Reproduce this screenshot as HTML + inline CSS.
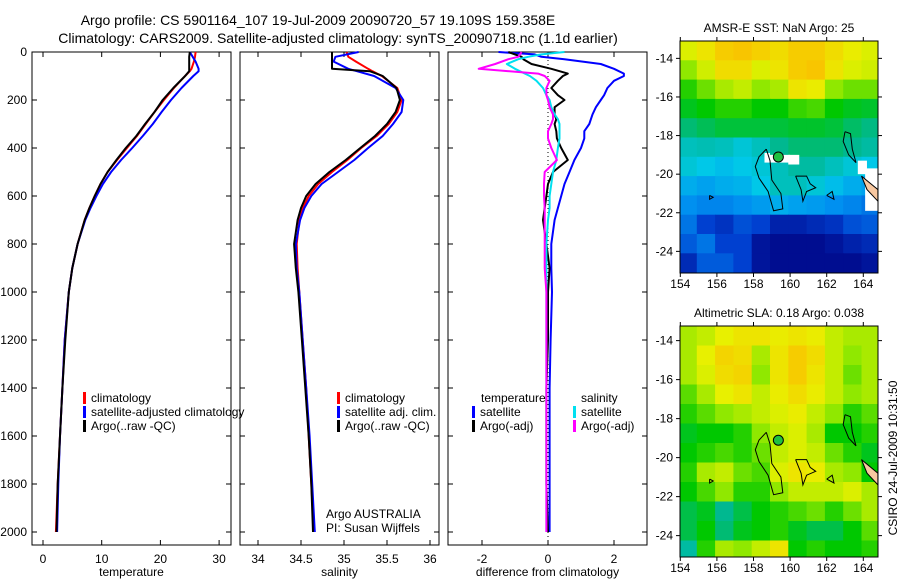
<!DOCTYPE html>
<html><head><meta charset="utf-8"><style>
html,body{margin:0;padding:0;background:#fff;}
svg{display:block;font-family:"Liberation Sans",sans-serif;}
text{fill:#000;}
</style></head><body>
<svg id="fig" width="900" height="580" viewBox="0 0 900 580">
<defs>
<clipPath id="clipm1"><rect x="680" y="41" width="198" height="232"/></clipPath>
<clipPath id="clipm2"><rect x="680" y="326" width="198" height="231"/></clipPath>
</defs>
<text x="318" y="25" font-size="14" text-anchor="middle">Argo profile: CS 5901164_107 19-Jul-2009 20090720_57 19.109S 159.358E</text>
<text x="338" y="43" font-size="14" text-anchor="middle">Climatology: CARS2009. Satellite-adjusted climatology: synTS_20090718.nc (1.1d earlier)</text>
<g id="g"></g>
</svg>
<script>
// ---- data ----
const depths = [0,20,40,70,80,100,150,200,250,300,350,400,450,500,550,600,650,700,800,900,1000,1200,1400,1600,1800,2000];
const tempClim = [26.0,25.9,25.7,25.3,25.0,24.2,22.3,20.6,19.0,17.5,16.0,14.3,12.6,11.0,9.8,8.8,7.9,7.1,5.9,5.0,4.4,3.7,3.3,2.9,2.5,2.2];
const tempSat = [25.0,25.5,26.0,26.5,26.5,25.6,23.6,21.8,20.2,18.7,17.0,15.2,13.3,11.6,10.2,9.1,8.1,7.2,5.9,5.0,4.4,3.7,3.3,2.9,2.6,2.4];
const tempArgo = [25.0,24.9,24.9,24.9,24.9,24.2,22.2,20.4,19.0,17.4,15.9,14.1,12.5,11.0,9.8,8.8,7.9,7.1,5.9,5.0,4.4,3.8,3.3,2.9,2.5,2.3];
const salClim = [35.03,35.05,35.14,35.28,35.33,35.44,35.62,35.67,35.62,35.52,35.38,35.2,35.04,34.86,34.70,34.59,34.52,34.48,34.45,34.46,34.48,34.52,34.56,34.59,34.62,34.65];
const salSat = [35.17,34.9,34.88,35.05,35.15,35.35,35.6,35.69,35.67,35.57,35.45,35.28,35.12,34.93,34.74,34.62,34.54,34.49,34.44,34.45,34.48,34.52,34.56,34.6,34.63,34.66];
const salArgo = [34.86,34.86,34.86,34.86,35.30,35.45,35.61,35.65,35.6,35.5,35.36,35.19,35.02,34.83,34.67,34.56,34.5,34.46,34.42,34.44,34.47,34.51,34.55,34.59,34.62,34.64];
const diffDepths = [0,10,20,30,50,70,90,100,120,150,180,200,230,260,280,300,330,360,400,450,500,550,600,650,700,800,900,1000,1200,1400,1600,1800,2000];
const dTempSat = [-1.5,-0.4,-0.2,0.5,1.6,2.0,2.3,2.3,2.0,1.8,1.7,1.6,1.45,1.35,1.3,1.25,1.1,1.1,1.0,0.8,0.65,0.5,0.4,0.3,0.2,0.1,0.1,0.12,0.08,0.05,0.05,0.05,0.05];
const dTempArgo = [-1.2,-1.0,-0.8,-0.75,-0.5,0.1,0.6,0.45,0.3,0.1,0.3,0.5,0.2,0.2,0.25,0.2,0.25,0.27,0.4,0.6,0.15,0.0,-0.05,-0.1,-0.15,-0.05,0.05,0.0,0.0,-0.05,-0.05,-0.05,0.0];
const dSalSat = [0.5,-0.2,-0.6,-0.9,-1.25,-1.0,-0.7,-0.55,-0.35,-0.15,-0.05,0.05,0.1,0.2,0.3,0.35,0.35,0.35,0.3,0.25,0.15,0.1,0.05,0.05,0.0,-0.05,-0.05,-0.05,-0.05,-0.05,-0.05,-0.05,-0.05];
const dSalArgo = [-0.8,-0.85,-0.9,-1.2,-1.6,-2.1,-0.3,-0.1,0.05,-0.05,-0.05,0.0,0.05,0.15,0.15,0.1,0.0,0.0,0.1,0.27,-0.1,-0.12,-0.12,-0.1,-0.1,-0.1,-0.1,-0.05,-0.05,-0.05,-0.05,-0.05,-0.05];
const depthTicks = [0,200,400,600,800,1000,1200,1400,1600,1800,2000];
const tempTicks = [0,10,20,30];
const salTicks = ["34","34.5","35","35.5","36"];
const diffTicks = [-2,0,2];
const lonTicks = [154,156,158,160,162,164];
const latTicks = [-14,-16,-18,-20,-22,-24];
const sstGrid = [
[0.74,0.78,0.84,0.86,0.83,0.8,0.84,0.84,0.8,0.76,0.74],
[0.68,0.73,0.8,0.8,0.74,0.78,0.84,0.86,0.78,0.74,0.73],
[0.62,0.66,0.7,0.72,0.68,0.7,0.78,0.76,0.68,0.66,0.66],
[0.58,0.6,0.62,0.62,0.6,0.6,0.63,0.64,0.6,0.58,0.57],
[0.52,0.54,0.56,0.56,0.56,0.56,0.57,0.57,0.56,0.53,0.51],
[0.45,0.46,0.45,0.42,0.45,0.5,0.52,0.52,0.52,0.5,0.48],
[0.42,0.4,0.38,0.4,0.42,0.45,0.48,0.48,0.45,0.42,0.4],
[0.35,0.33,0.35,0.36,0.4,0.45,0.45,0.42,0.38,0.35,0.33],
[0.3,0.28,0.28,0.3,0.32,0.35,0.33,0.32,0.3,0.28,0.25],
[0.25,0.15,0.12,0.18,0.15,0.08,0.08,0.1,0.12,0.18,0.2],
[0.2,0.25,0.15,0.15,0.05,0.03,0.03,0.03,0.05,0.08,0.1],
[0.1,0.2,0.2,0.15,0.05,0.03,0.03,0.03,0.03,0.03,0.05]];
const slaGrid = [
[0.7,0.72,0.75,0.78,0.78,0.76,0.78,0.76,0.72,0.7,0.7],
[0.7,0.75,0.82,0.8,0.7,0.78,0.84,0.8,0.72,0.68,0.7],
[0.7,0.74,0.8,0.82,0.68,0.78,0.84,0.78,0.72,0.66,0.7],
[0.65,0.7,0.75,0.78,0.72,0.76,0.8,0.76,0.72,0.68,0.7],
[0.62,0.65,0.68,0.7,0.72,0.74,0.76,0.72,0.68,0.62,0.65],
[0.58,0.6,0.6,0.62,0.68,0.72,0.74,0.7,0.6,0.6,0.62],
[0.6,0.62,0.64,0.62,0.66,0.72,0.74,0.72,0.66,0.62,0.58],
[0.62,0.7,0.72,0.66,0.64,0.74,0.78,0.76,0.7,0.68,0.6],
[0.6,0.64,0.68,0.62,0.62,0.68,0.72,0.72,0.72,0.74,0.7],
[0.55,0.58,0.5,0.55,0.6,0.62,0.64,0.66,0.62,0.66,0.7],
[0.55,0.6,0.52,0.58,0.6,0.62,0.58,0.55,0.55,0.6,0.65],
[0.48,0.62,0.7,0.68,0.72,0.78,0.6,0.62,0.6,0.6,0.62]];
const argoLon = [159.358];
const argoLat = [-19.109];

// ---- scales ----
const P1={x0:32,x1:231}, P2={x0:240,x1:439}, P3={x0:448,x1:647}, TOP=52, BOT=545;
const yD = d => TOP + d*0.24;
const xT = v => 43 + v*5.87;
const xS = v => 258 + (v-34)*86;
const xDf = v => 548 + v*33;
const M1={top:41,bot:273,latTop:-13.1,pxLat:19.3}, M2={top:326,bot:557,latTop:-13.25,pxLat:19.5};
const xLon = lon => 680.3 + (lon-154)*18.3;
const yLat = (m,lat) => m.top + (m.latTop-lat)*m.pxLat;

const NS="http://www.w3.org/2000/svg";
const G=document.getElementById('g');
function mk(tag,attrs,parent){const e=document.createElementNS(NS,tag);for(const k in attrs)e.setAttribute(k,attrs[k]);(parent||G).appendChild(e);return e;}
function txt(x,y,s,size,anchor,parent){const t=mk('text',{x:x,y:y,'font-size':size,'text-anchor':anchor||'middle'},parent);t.textContent=s;return t;}

function cmap(v){
  const st=[[0,[0,0,128]],[0.15,[0,64,208]],[0.3,[0,144,240]],[0.4,[0,200,232]],[0.5,[0,184,144]],[0.6,[0,200,0]],[0.68,[144,232,0]],[0.75,[232,240,0]],[0.85,[248,200,0]],[1,[248,160,0]]];
  v=Math.max(0,Math.min(1,v));
  for(let i=1;i<st.length;i++){if(v<=st[i][0]){const a=st[i-1],b=st[i],f=(v-a[0])/(b[0]-a[0]);return 'rgb('+a[1].map((c,j)=>Math.round(c+(b[1][j]-c)*f)).join(',')+')';}}
  return 'rgb(248,160,0)';
}

// ---- profile panels ----
function panel(P,name,xTickVals,xf,labels,xlabel){
  const r=mk('rect',{x:P.x0,y:TOP,width:P.x1-P.x0,height:BOT-TOP,fill:'none',stroke:'#000','stroke-width':1});
  
  
  depthTicks.forEach(d=>{
    mk('line',{x1:P.x0,x2:P.x0+5,y1:yD(d),y2:yD(d),stroke:'#000'});
    mk('line',{x1:P.x1-5,x2:P.x1,y1:yD(d),y2:yD(d),stroke:'#000'});
  });
  xTickVals.forEach((v,i)=>{
    const x=xf(v);
    mk('line',{x1:x,x2:x,y1:BOT,y2:BOT-5,stroke:'#000'});
    mk('line',{x1:x,x2:x,y1:TOP,y2:TOP+5,stroke:'#000'});
    const t=txt(x,563,labels[i],12);
    
    
  });
  const xl=txt((P.x0+P.x1)/2,576,xlabel,12);
  
  
}
function line(xs,ds,xf,color,name,w){
  const pts=xs.map((v,i)=>xf(v).toFixed(1)+','+yD(ds[i]).toFixed(1)).join(' ');
  const p=mk('polyline',{points:pts,fill:'none',stroke:color,'stroke-width':w||2,'stroke-linejoin':'round'});
  
  
}
panel(P1,'temperature-panel',tempTicks,xT,tempTicks.map(String),'temperature');
panel(P2,'salinity-panel',salTicks.map(Number),xS,salTicks,'salinity');
panel(P3,'difference-panel',diffTicks,xDf,diffTicks.map(String),'difference from climatology');
depthTicks.forEach(d=>{
  const t=txt(27,yD(d)+4,String(d),12,'end');
  
  
});
const zl=mk('line',{x1:xDf(0),x2:xDf(0),y1:TOP,y2:BOT,stroke:'#000','stroke-dasharray':'1,3'});



line(tempClim,depths,xT,'#ff0000','temp-climatology-line');
line(tempSat,depths,xT,'#0000ff','temp-satellite-line');
line(tempArgo,depths,xT,'#000000','temp-argo-line');
line(salClim,depths,xS,'#ff0000','sal-climatology-line');
line(salSat,depths,xS,'#0000ff','sal-satellite-line');
line(salArgo,depths,xS,'#000000','sal-argo-line');
line(dTempSat,diffDepths,xDf,'#0000ff','diff-temp-satellite-line');
line(dTempArgo,diffDepths,xDf,'#000000','diff-temp-argo-line');
line(dSalSat,diffDepths,xDf,'#00e0f0','diff-sal-satellite-line');
line(dSalArgo,diffDepths,xDf,'#ff00ff','diff-sal-argo-line');

function leg(x,y,color,label,name){
  const m=mk('rect',{x:x,y:y-10,width:3,height:12,fill:color});
  
  
  const t=txt(x+8,y,label,12,'start');
  
  
}
leg(83,402,'#ff0000','climatology','legend-temp-climatology');
leg(83,416,'#0000ff','satellite-adjusted climatology','legend-temp-satellite');
leg(83,430,'#000000','Argo(..raw -QC)','legend-temp-argo');
leg(337,402,'#ff0000','climatology','legend-sal-climatology');
leg(337,416,'#0000ff','satellite adj. clim.','legend-sal-satellite');
leg(337,430,'#000000','Argo(..raw -QC)','legend-sal-argo');
const lt=txt(481,402,'temperature',12,'start');


const ls=txt(581,402,'salinity',12,'start');


leg(472,416,'#0000ff','satellite','legend-diff-temp-satellite');
leg(472,430,'#000000','Argo(-adj)','legend-diff-temp-argo');
leg(573,416,'#00e0f0','satellite','legend-diff-sal-satellite');
leg(573,430,'#ff00ff','Argo(-adj)','legend-diff-sal-argo');
const a1=txt(326,518,'Argo AUSTRALIA',12,'start');


const a2=txt(326,532,'PI: Susan Wijffels',12,'start');



// ---- maps ----
function map(M,grid,clip,name,title,nanBoxes){
  const g=mk('g',{'clip-path':'url(#'+clip+')'});
  
  
  grid.forEach((row,r)=>row.forEach((v,c)=>{
    const x=xLon(153.9+c), y=yLat(M,M.latTop-r);
    const cell=mk('rect',{x:x.toFixed(1),y:y.toFixed(1),width:18.9,height:(M.pxLat+0.6).toFixed(1),fill:cmap(v)},g);
    
    
  }));
  grid[grid.length-1].forEach((v,c)=>{
    const cell=mk('rect',{x:xLon(153.9+c),y:yLat(M,M.latTop-grid.length),width:18.9,height:M.pxLat,fill:cmap(v)},g);
    
    
  });
  (nanBoxes||[]).forEach(b=>{
    const w=mk('rect',{x:xLon(b[0]),y:yLat(M,b[1]),width:b[2]*18.3,height:b[3]*M.pxLat,fill:'#fff'},g);
    
    
  });
  const coast=[[[158.7,-18.7],[158.3,-19.1],[158.1,-19.6],[158.3,-20.2],[158.8,-20.9],[159.1,-21.9],[159.6,-21.8],[159.5,-21.0],[159.0,-20.3],[158.9,-19.3],[158.7,-18.7]],
    [[160.3,-20.1],[160.9,-20.1],[161.1,-20.5],[161.4,-20.7],[160.9,-20.9],[160.7,-21.4],[160.6,-20.8],[160.3,-20.1]],
    [[163.0,-17.8],[162.9,-18.3],[163.2,-19.0],[163.6,-19.4],[163.4,-18.7],[163.3,-17.9],[163.0,-17.8]],
    [[162.0,-21.1],[162.3,-20.9],[162.4,-21.3],[162.0,-21.1]],
    [[155.6,-21.1],[155.8,-21.2],[155.6,-21.3],[155.6,-21.1]]];
  coast.forEach(poly=>{
    const p=mk('polyline',{points:poly.map(q=>xLon(q[0]).toFixed(1)+','+yLat(M,q[1]).toFixed(1)).join(' '),fill:'none',stroke:'#000','stroke-width':1},g);
    
    
  });
  const land=mk('polygon',{points:[[163.9,-20.1],[164.8,-20.8],[164.8,-21.4],[164.2,-20.8],[163.9,-20.1]].map(q=>xLon(q[0]).toFixed(1)+','+yLat(M,q[1]).toFixed(1)).join(' '),fill:'#f8c8a0',stroke:'#000'},g);
  
  
  const dot=mk('circle',{cx:xLon(argoLon[0]),cy:yLat(M,argoLat[0]),r:5,fill:'#20c040',stroke:'#000'},g);
  
  
  const fr=mk('rect',{x:680,y:M.top,width:198,height:M.bot-M.top,fill:'none',stroke:'#000'});
  
  
  lonTicks.forEach(l=>{
    const x=xLon(l);
    mk('line',{x1:x,x2:x,y1:M.bot,y2:M.bot+4,stroke:'#000'});
    mk('line',{x1:x,x2:x,y1:M.top,y2:M.top-4,stroke:'#000'});
    const t=txt(x,M.bot+15,String(l),12);
    
    
  });
  latTicks.forEach(l=>{
    const y=yLat(M,l);
    mk('line',{x1:680,x2:676,y1:y,y2:y,stroke:'#000'});
    mk('line',{x1:878,x2:882,y1:y,y2:y,stroke:'#000'});
    const t=txt(673,y+4,String(l),12,'end');
    
    
  });
  const tt=txt(779,M.top-9,title,12);
  
  
}
map(M1,sstGrid,'clipm1','sst-map','AMSR-E SST: NaN  Argo: 25',
  [[158.6,-18.9,0.3,0.5],[158.9,-19.0,1.1,0.4],[159.9,-19.0,0.6,0.5],[163.7,-19.3,0.5,0.7],[164.1,-19.7,0.7,2.2]]);
map(M2,slaGrid,'clipm2','sla-map','Altimetric SLA: 0.18  Argo: 0.038',[]);
const cs=mk('text',{x:0,y:0,'font-size':12,'text-anchor':'middle',transform:'translate(897,458) rotate(-90)'});
cs.textContent='CSIRO 24-Jul-2009 10:31:50';


</script>
</body></html>
